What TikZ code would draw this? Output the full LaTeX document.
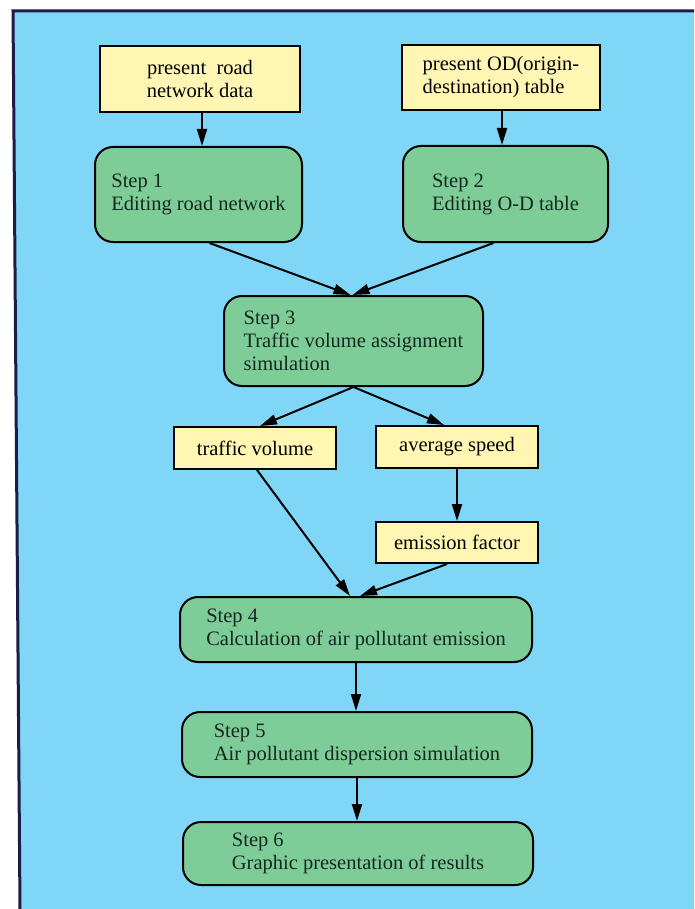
\documentclass[tikz,border=0pt]{standalone}
\usepackage{fontspec}
\setmainfont{Liberation Serif}
\usepackage{xcolor}
\usepackage{tikz}
\usetikzlibrary{arrows.meta}
\usetikzlibrary{shapes, positioning}

\definecolor{skyblue}{RGB}{128,214,246}
\definecolor{paleyellow}{RGB}{255,246,180}
\definecolor{stepgreen}{RGB}{126,204,152}
\definecolor{frameblue}{RGB}{28,28,72}
\definecolor{inkgreen}{RGB}{20,40,30}

\begin{document}
\begin{tikzpicture}[x=1pt, y=-1pt,
    font=\fontsize{20.5}{23}\selectfont,
    datbox/.style={draw, line width=2pt, fill=paleyellow, inner sep=0pt},
    stepbox/.style={draw, line width=2pt, fill=stepgreen, text=inkgreen, rounded corners=18pt, align=left, inner sep=0pt},
    arr/.style={line width=2pt, -{Triangle[length=17pt, width=10pt]}}]
    \useasboundingbox (0,0) rectangle (694,909);
    % background sheet
    \fill[white] (0,0) rectangle (694,909);
    \fill[skyblue] (13,11) -- (694,11) -- (694,909) -- (20,909) -- cycle;
    \draw[frameblue, line width=3pt] (694,11) -- (13,11) -- (20,909);

    % input data
    \node[datbox, minimum width=200, minimum height=66, align=center] (road) at (200,79) {present\ \ road\\network data};
    \node[datbox, minimum width=198, minimum height=65, align=left] (odtab) at (501,77.5) {present OD(origin-\\destination) table};

    % steps
    \node[stepbox, minimum width=207, minimum height=95] (step1) at (198.5,194.5) {Step 1\\Editing road network};
    \node[stepbox, minimum width=205, minimum height=96] (step2) at (505.5,194) {Step 2\\Editing O-D table};
    \node[stepbox, minimum width=259, minimum height=90] (step3) at (353.5,341) {Step 3\\Traffic volume assignment\\simulation};

    \node[datbox, minimum width=162, minimum height=42] (volume) at (255,448) {traffic volume};
    \node[datbox, minimum width=162, minimum height=42] (speed) at (457,447) {average speed};
    \node[datbox, minimum width=162, minimum height=41] (emfac) at (457,542.5) {emission factor};

    \node[stepbox, minimum width=352, minimum height=65] (step4) at (356,629.5) {Step 4\\Calculation of air pollutant emission};
    \node[stepbox, minimum width=350, minimum height=65] (step5) at (357,744.5) {Step 5\\Air pollutant dispersion simulation};
    \node[stepbox, minimum width=350, minimum height=63] (step6) at (358,853.5) {Step 6\\Graphic presentation of results};

    % connectors
    \draw[arr] ([xshift=2pt]road.south) -- ([xshift=2pt]road.south |- step1.north);
    \draw[arr] ([xshift=1pt]odtab.south) -- ([xshift=1pt]odtab.south |- step2.north);
    \draw[arr] ([xshift=11pt]step1.south) -- ([xshift=-3pt]step3.north);
    \draw[arr] ([xshift=-12pt]step2.south) -- ([xshift=-1pt]step3.north);
    \draw[arr] (step3.south) -- ([xshift=5pt]volume.north);
    \draw[arr] (step3.south) -- ([xshift=-13pt]speed.north);
    \draw[arr] (speed.south) -- (emfac.north);
    \draw[arr] ([xshift=2pt]volume.south) -- ([xshift=-6pt]step4.north);
    \draw[arr] ([xshift=-10pt]emfac.south) -- ([xshift=4pt]step4.north);
    \draw[arr] (step4.south) -- (step4.south |- step5.north);
    \draw[arr] (step5.south) -- (step5.south |- step6.north);
\end{tikzpicture}
\end{document}
